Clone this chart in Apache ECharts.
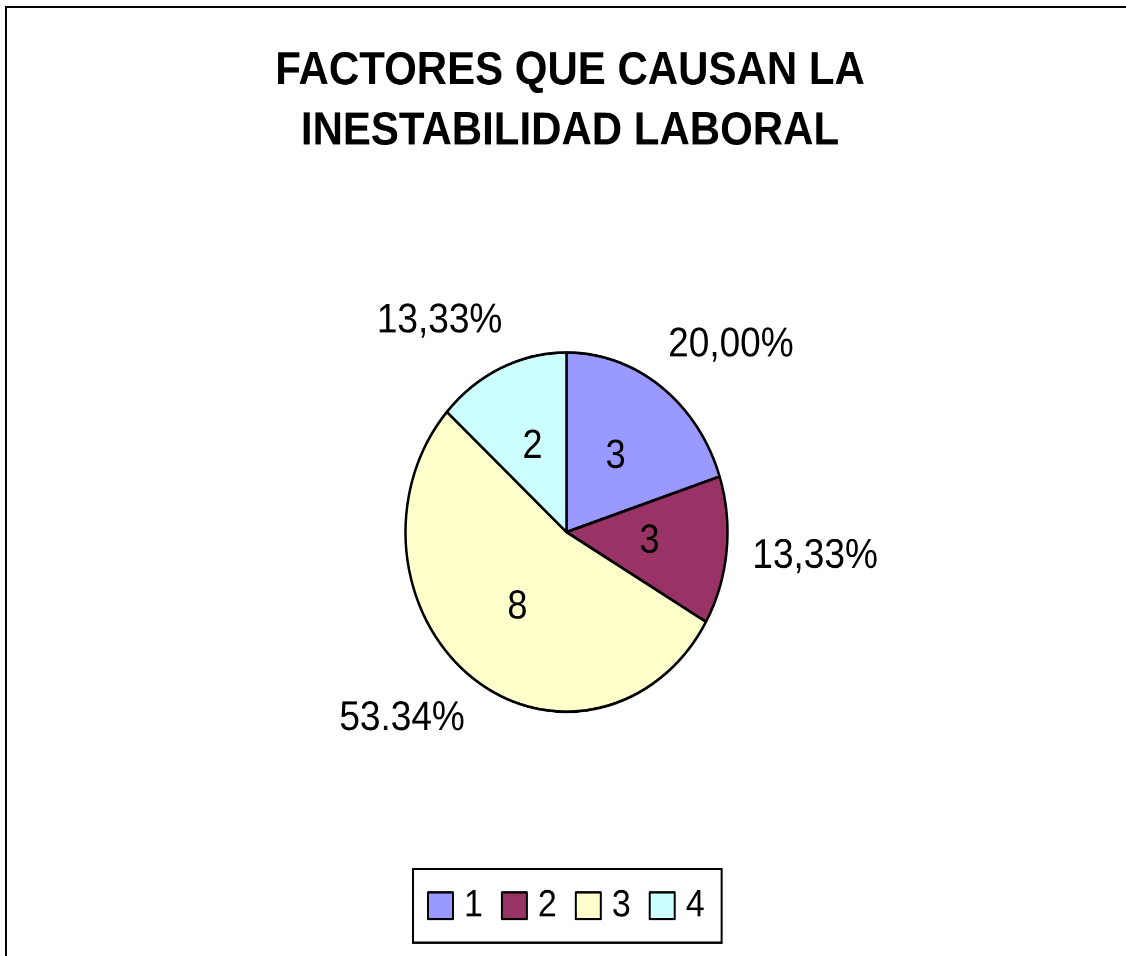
<!DOCTYPE html>
<html>
<head>
<meta charset="utf-8">
<script src="https://cdn.jsdelivr.net/npm/echarts@6/dist/echarts.min.js"></script>
<style>
  html, body { margin: 0; padding: 0; background: #fff; overflow: hidden; }
  #frame { position: absolute; left: 5px; top: 6px; width: 1300px; height: 1100px; border: 2px solid #000; box-sizing: border-box; }
  #chart { position: absolute; left: 0; top: 0; width: 1126px; height: 857px; transform: scaleY(1.1155); transform-origin: 0 0; }
</style>
</head>
<body>
<div id="frame"></div>
<div id="chart"></div>
<script>
const titleText = 'FACTORES QUE CAUSAN LA\nINESTABILIDAD LABORAL';
const categories = ['1', '2', '3', '4'];
const sliceValues = [20.00, 13.33, 53.34, 13.33];
const innerLabels = ['3', '3', '8', '2'];
const percentLabels = ['20,00%', '13,33%', '53.34%', '13,33%'];
const sliceColors = ['#9999FF', '#993366', '#FFFFCC', '#CCFFFF'];

const font = "'Liberation Sans', Arial, sans-serif";
const chart = echarts.init(document.getElementById('chart'), null, { renderer: 'canvas', devicePixelRatio: 2 });

const mainData = categories.map((c, i) => ({
  name: c, value: sliceValues[i], itemStyle: { color: sliceColors[i] }
}));
const labelData = categories.map((c, i) => ({ name: c, value: sliceValues[i] }));

chart.setOption({
  animation: false,
  backgroundColor: 'transparent',
  title: {
    text: titleText,
    left: 570,
    top: 37,
    padding: 0,
    textAlign: 'center',
    textStyle: { fontFamily: font, fontWeight: 'bold', fontSize: 42, lineHeight: 54, color: '#000' }
  },
  legend: {
    data: categories,
    left: 413,
    top: 779,
    orient: 'horizontal',
    padding: [16, 17, 16, 14],
    itemGap: 18,
    itemWidth: 25,
    itemHeight: 24,
    icon: 'rect',
    borderColor: '#000',
    borderWidth: 2,
    selectedMode: false,
    itemStyle: { borderColor: '#000', borderWidth: 2 },
    textStyle: { fontFamily: font, fontSize: 34, color: '#000', padding: [0, 0, 0, 6] }
  },
  series: [
    {
      type: 'pie',
      radius: 161,
      center: [566.5, 477],
      startAngle: 90,
      clockwise: true,
      avoidLabelOverlap: false,
      silent: true,
      data: mainData,
      itemStyle: { borderColor: '#000', borderWidth: 2.5 },
      label: {
        show: true,
        position: 'inside',
        formatter: p => innerLabels[p.dataIndex],
        fontFamily: font, fontSize: 36, color: '#000'
      },
      labelLine: { show: false },
      emphasis: { disabled: true }
    },
    {
      type: 'pie',
      radius: 161,
      center: [566.5, 477],
      startAngle: 90,
      clockwise: true,
      avoidLabelOverlap: false,
      silent: true,
      data: labelData,
      itemStyle: { color: 'rgba(0,0,0,0)', borderWidth: 0 },
      label: {
        show: true,
        position: 'outside',
        formatter: p => percentLabels[p.dataIndex],
        fontFamily: font, fontSize: 37, color: '#000',
        distanceToLabelLine: -20
      },
      labelLine: { show: false, length: 46, length2: 0 },
      emphasis: { disabled: true }
    }
  ]
});
</script>
</body>
</html>
